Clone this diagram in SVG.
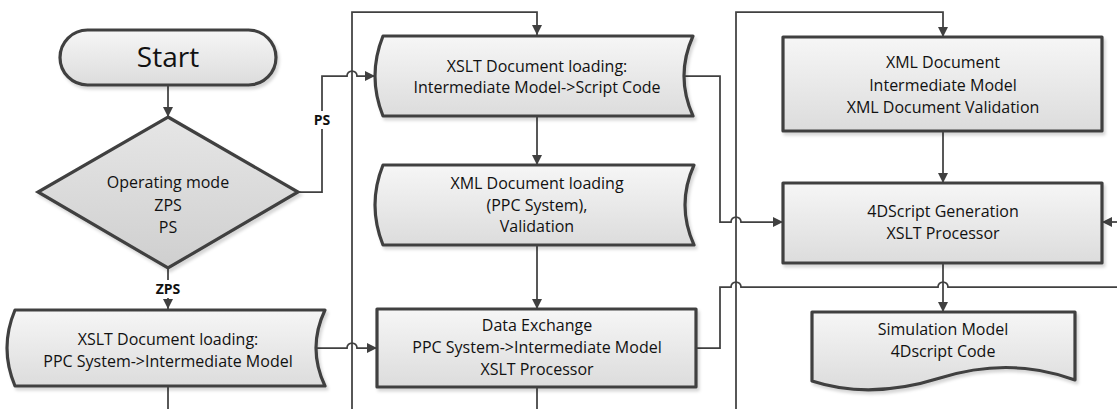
<svg xmlns="http://www.w3.org/2000/svg" width="1117" height="409" viewBox="0 0 1117 409">
  <defs>
    <linearGradient id="boxFill" x1="0" y1="0" x2="0" y2="1">
      <stop offset="0" stop-color="#f6f6f6"/>
      <stop offset="1" stop-color="#dcdcdc"/>
    </linearGradient>
    <linearGradient id="decFill" x1="0" y1="0" x2="0" y2="1">
      <stop offset="0" stop-color="#e6e6e6"/>
      <stop offset="1" stop-color="#cfcfcf"/>
    </linearGradient>
    <filter id="shadow" x="-10%" y="-10%" width="125%" height="130%">
      <feDropShadow dx="2" dy="3" stdDeviation="1.5" flood-color="#000" flood-opacity="0.16"/>
    </filter>
    <marker id="arrow" viewBox="0 0 10 10" refX="10" refY="5" markerWidth="10" markerHeight="10" markerUnits="userSpaceOnUse" orient="auto">
      <path d="M0,0 L10,5 L0,10 Z" fill="#404040"/>
    </marker>
  </defs>
  <style>
    .shape { fill: url(#boxFill); stroke: #404040; stroke-width: 3.2; stroke-linejoin: round; filter: url(#shadow); }
    .decision { fill: url(#decFill); stroke: #404040; stroke-width: 3.2; stroke-linejoin: miter; filter: url(#shadow); }
    .conn { fill: none; stroke: #404040; stroke-width: 1.75; }
    .arr { marker-end: url(#arrow); }
    .t { font-family: "Open Sans", "Noto Sans", "Liberation Sans", sans-serif; font-size: 16px; fill: #111; text-anchor: middle; }
    .big { font-size: 28px; }
    .lbl { font-family: "Open Sans", "Noto Sans", "Liberation Sans", sans-serif; font-size: 14px; font-weight: bold; fill: #111; text-anchor: middle; }
  </style>

  <!-- connectors -->
  <g id="connectors">
    <path class="conn arr" d="M168,85 V117"/>
    <path class="conn arr" d="M168,268 V309"/>
    <path class="conn arr" d="M298,192 H322 V76 H347 A5,5 0 0 1 357,76 H375"/>
    <path class="conn arr" d="M316,348 H347 A5,5 0 0 1 357,348 H377"/>
    <path class="conn" d="M168,386 V409"/>
    <path class="conn arr" d="M352,409 V12 H537 V35"/>
    <path class="conn arr" d="M537,116 V165"/>
    <path class="conn arr" d="M537,245 V309"/>
    <path class="conn" d="M537,387 V409"/>
    <path class="conn arr" d="M684,76 H720 V222 H731 A5,5 0 0 1 741,222 H783"/>
    <path class="conn" d="M696,348 H720 V287 H731 A5,5 0 0 1 741,287 H938 A5,5 0 0 1 948,287 H1117"/>
    <path class="conn arr" d="M736,409 V12 H943 V37"/>
    <path class="conn arr" d="M943,131 V183"/>
    <path class="conn arr" d="M943,263 V312"/>
    <path class="conn arr" d="M1117,222 H1102"/>
    <!-- branch labels -->
    <rect x="309" y="111" width="26" height="18" fill="#fff"/>
    <text class="lbl" x="322" y="125">PS</text>
    <rect x="150" y="280" width="36" height="18" fill="#fff"/>
    <text class="lbl" x="168" y="294">ZPS</text>
  </g>

  <g id="start">
    <rect class="shape" x="60" y="30" width="216" height="55" rx="27.5"/>
    <text class="t big" x="168" y="67">Start</text>
  </g>

  <g id="operating-mode">
    <path class="decision" d="M168,117 L298,192 L168,268 L38,192 Z"/>
    <text class="t" x="168" y="188">Operating mode</text>
    <text class="t" x="168" y="211">ZPS</text>
    <text class="t" x="168" y="233">PS</text>
  </g>

  <g id="xslt-ppc">
    <path class="shape" d="M15,310 H325 Q307,348 325,386 H15 Q-1,348 15,310 Z"/>
    <text class="t" x="168" y="345">XSLT Document loading:</text>
    <text class="t" x="168" y="367">PPC System-&gt;Intermediate Model</text>
  </g>

  <g id="xslt-script">
    <path class="shape" d="M383,36 H693 Q675,76 693,116 H383 Q367,76 383,36 Z"/>
    <text class="t" x="537" y="72">XSLT Document loading:</text>
    <text class="t" x="537" y="93">Intermediate Model-&gt;Script Code</text>
  </g>

  <g id="xml-ppc">
    <path class="shape" d="M383,165 H694 Q676,205 694,245 H383 Q367,205 383,165 Z"/>
    <text class="t" x="537" y="189">XML Document loading</text>
    <text class="t" x="537" y="211">(PPC System),</text>
    <text class="t" x="537" y="232">Validation</text>
  </g>

  <g id="data-exchange">
    <rect class="shape" x="377" y="309" width="319" height="78"/>
    <text class="t" x="537" y="331">Data Exchange</text>
    <text class="t" x="537" y="353">PPC System-&gt;Intermediate Model</text>
    <text class="t" x="537" y="375">XSLT Processor</text>
  </g>

  <g id="xml-intermediate">
    <rect class="shape" x="783" y="37" width="319" height="94"/>
    <text class="t" x="943" y="68">XML Document</text>
    <text class="t" x="943" y="91">Intermediate Model</text>
    <text class="t" x="943" y="113">XML Document Validation</text>
  </g>

  <g id="script-generation">
    <rect class="shape" x="783" y="183" width="319" height="80"/>
    <text class="t" x="943" y="217">4DScript Generation</text>
    <text class="t" x="943" y="239">XSLT Processor</text>
  </g>

  <g id="simulation-model">
    <path class="shape" d="M812,312 H1075 V380 Q1010,356 940,378 Q870,400 812,381 Z"/>
    <text class="t" x="943" y="335">Simulation Model</text>
    <text class="t" x="943" y="357">4Dscript Code</text>
  </g>
</svg>
